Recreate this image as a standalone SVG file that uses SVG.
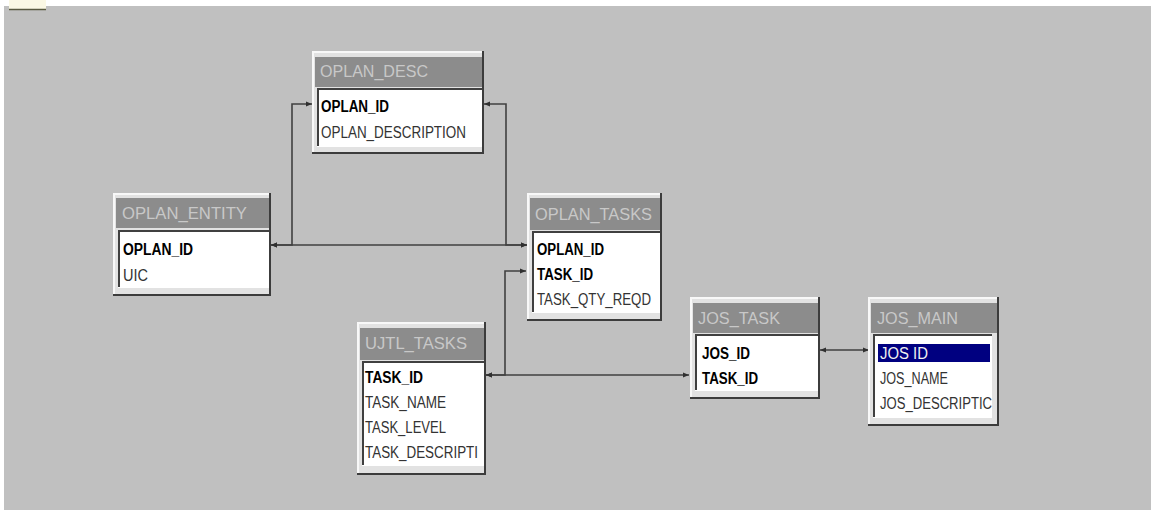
<svg xmlns="http://www.w3.org/2000/svg" width="1151" height="510" viewBox="0 0 1151 510">
<style>
.face{fill:#e2e2e2;}
.hl{stroke:#f8f8f8;stroke-width:2;fill:none;}
.sh{stroke:#3c3c3c;stroke-width:2;fill:none;}
.bar{fill:#8c8c8c;}
.ttl{font-family:"Liberation Sans",Arial,sans-serif;font-size:16.5px;fill:#c8c8c8;}
.list{fill:#ffffff;}
.sunk{stroke:#404040;stroke-width:2;fill:none;}
.fld{font-family:"Liberation Sans",Arial,sans-serif;font-size:16px;fill:#333333;}
.key{font-weight:bold;fill:#000000;}
.sel{fill:#000080;}
.seltx{fill:#f0f0f0;}
.con{stroke:#404040;stroke-width:1.6;fill:none;marker-start:url(#a);marker-end:url(#a);}
</style>
<defs>
<marker id="a" viewBox="0 0 6 6" refX="6" refY="3" markerWidth="6" markerHeight="6" markerUnits="userSpaceOnUse" orient="auto-start-reverse">
<path d="M0,0.5 L6,3 L0,5.5 Z" fill="#303030"/>
</marker>
</defs>
<rect x="0" y="0" width="1151" height="510" fill="#ffffff"/>
<rect x="4" y="6" width="1147" height="504" fill="#c0c0c0"/>
<rect x="9" y="0" width="37" height="9" fill="#fbf8e4"/>
<line x1="9" y1="9.5" x2="46" y2="9.5" stroke="#5a5a40" stroke-width="1.5"/>

<g id="connectors">
<path class="con" d="M271,245 H527"/>
<path class="con" d="M271,245 H292 V104 H312"/>
<path class="con" d="M484,104 H506 V245 H527"/>
<path class="con" d="M486,375 H689"/>
<path class="con" d="M486,375 H505 V271 H526"/>
<path class="con" d="M820,350 H869"/>
</g>

<g id="oplan_desc">
<rect class="face" x="312" y="51" width="171" height="102"/>
<path class="hl" d="M313,152 V52 H482"/>
<path class="sh" d="M483,51 V153 H312"/>
<rect class="bar" x="315" y="57" width="167" height="30"/>
<text class="ttl" x="320" y="77" textLength="108" lengthAdjust="spacingAndGlyphs">OPLAN_DESC</text>
<rect class="list" x="317" y="89" width="165" height="58"/>
<path class="sunk" d="M318,146 V89 H482"/>
<text class="fld key" x="321" y="112" textLength="68" lengthAdjust="spacingAndGlyphs">OPLAN_ID</text>
<text class="fld" x="321" y="138" textLength="145" lengthAdjust="spacingAndGlyphs">OPLAN_DESCRIPTION</text>
</g>

<g id="oplan_entity">
<rect class="face" x="113" y="193" width="157" height="102"/>
<path class="hl" d="M114,294 V194 H269"/>
<path class="sh" d="M270,193 V295 H113"/>
<rect class="bar" x="116" y="198" width="153" height="30"/>
<text class="ttl" x="122" y="219" textLength="125" lengthAdjust="spacingAndGlyphs">OPLAN_ENTITY</text>
<rect class="list" x="118" y="231" width="151" height="57"/>
<path class="sunk" d="M119,287 V231 H269"/>
<text class="fld key" x="123" y="255" textLength="70" lengthAdjust="spacingAndGlyphs">OPLAN_ID</text>
<text class="fld" x="123" y="281" textLength="25" lengthAdjust="spacingAndGlyphs">UIC</text>
</g>

<g id="oplan_tasks">
<rect class="face" x="527" y="193" width="134" height="127"/>
<path class="hl" d="M528,319 V194 H660"/>
<path class="sh" d="M661,193 V320 H527"/>
<rect class="bar" x="530" y="198" width="130" height="32"/>
<text class="ttl" x="535" y="220" textLength="117" lengthAdjust="spacingAndGlyphs">OPLAN_TASKS</text>
<rect class="list" x="532" y="232" width="128" height="81"/>
<path class="sunk" d="M533,312 V232 H660"/>
<text class="fld key" x="537" y="255" textLength="67" lengthAdjust="spacingAndGlyphs">OPLAN_ID</text>
<text class="fld key" x="537" y="280" textLength="56" lengthAdjust="spacingAndGlyphs">TASK_ID</text>
<text class="fld" x="537" y="305" textLength="114" lengthAdjust="spacingAndGlyphs">TASK_QTY_REQD</text>
</g>

<g id="ujtl_tasks">
<rect class="face" x="357" y="322" width="128" height="152"/>
<path class="hl" d="M358,473 V323 H484"/>
<path class="sh" d="M485,322 V474 H357"/>
<rect class="bar" x="360" y="328" width="124" height="32"/>
<text class="ttl" x="365" y="349" textLength="102" lengthAdjust="spacingAndGlyphs">UJTL_TASKS</text>
<rect class="list" x="362" y="362" width="122" height="104"/>
<path class="sunk" d="M363,465 V362 H484"/>
<text class="fld key" x="365" y="383" textLength="58" lengthAdjust="spacingAndGlyphs">TASK_ID</text>
<text class="fld" x="365" y="408" textLength="81" lengthAdjust="spacingAndGlyphs">TASK_NAME</text>
<text class="fld" x="365" y="433" textLength="81" lengthAdjust="spacingAndGlyphs">TASK_LEVEL</text>
<text class="fld" x="365" y="458" textLength="113" lengthAdjust="spacingAndGlyphs">TASK_DESCRIPTI</text>
</g>

<g id="jos_task">
<rect class="face" x="690" y="297" width="129" height="101"/>
<path class="hl" d="M691,397 V298 H818"/>
<path class="sh" d="M819,297 V398 H690"/>
<rect class="bar" x="693" y="303" width="125" height="30"/>
<text class="ttl" x="698" y="324" textLength="82" lengthAdjust="spacingAndGlyphs">JOS_TASK</text>
<rect class="list" x="695" y="335" width="123" height="56"/>
<path class="sunk" d="M696,390 V335 H818"/>
<text class="fld key" x="702" y="359" textLength="48" lengthAdjust="spacingAndGlyphs">JOS_ID</text>
<text class="fld key" x="702" y="384" textLength="56" lengthAdjust="spacingAndGlyphs">TASK_ID</text>
</g>

<g id="jos_main">
<rect class="face" x="868" y="297" width="130" height="128"/>
<path class="hl" d="M869,424 V298 H997"/>
<path class="sh" d="M998,297 V425 H868"/>
<rect class="bar" x="871" y="303" width="126" height="30"/>
<text class="ttl" x="877" y="324" textLength="81" lengthAdjust="spacingAndGlyphs">JOS_MAIN</text>
<rect class="list" x="873" y="335" width="119" height="83"/>
<path class="sunk" d="M874,417 V335 H992"/>
<rect class="sel" x="878" y="344" width="112" height="18"/>
<text class="fld seltx" x="880" y="359" textLength="48" lengthAdjust="spacingAndGlyphs">JOS ID</text>
<text class="fld" x="880" y="384" textLength="68" lengthAdjust="spacingAndGlyphs">JOS_NAME</text>
<text class="fld" x="880" y="409" textLength="112" lengthAdjust="spacingAndGlyphs">JOS_DESCRIPTIC</text>
</g>
</svg>
